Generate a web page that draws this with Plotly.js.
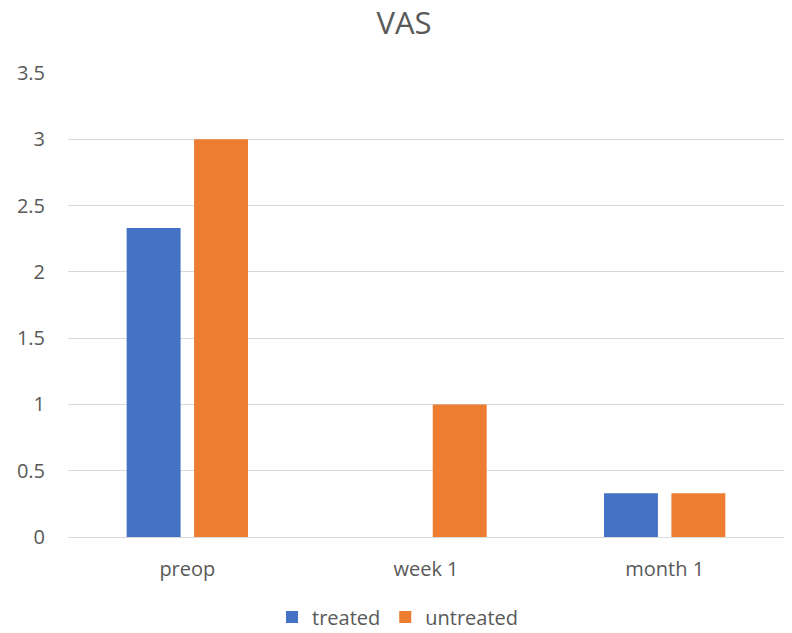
<!DOCTYPE html>
<html>
<head>
<meta charset="utf-8">
<script src="https://cdn.plot.ly/plotly-3.0.1.min.js"></script>
<style>html,body{margin:0;padding:0;background:#fff;}#chart{width:792px;height:633px;}</style>
</head>
<body>
<div id="chart"></div>
<script>
const categories = ["preop", "week 1", "month 1"];
const treated = [2.33, 0, 0.33];
const untreated = [3, 1, 0.33];
const yTicks = [0, 0.5, 1, 1.5, 2, 2.5, 3, 3.5];
const yTickLabels = ["0", "0.5", "1", "1.5", "2", "2.5", "3", "3.5"];

const textColor = "#595959";
const fontFamily = "'Open Sans', 'DejaVu Sans', sans-serif";

const data = [
  {type: "bar", name: "treated", x: categories, y: treated, marker: {color: "#4472C4"}},
  {type: "bar", name: "untreated", x: categories, y: untreated, marker: {color: "#ED7D31"}}
];

const layout = {
  width: 792, height: 633,
  margin: {l: 68, r: 8, t: 73, b: 96},
  paper_bgcolor: "#fff", plot_bgcolor: "#fff",
  font: {family: fontFamily, color: textColor, size: 20},
  title: {text: "VAS", font: {size: 31, color: textColor, family: fontFamily}, x: 404/792, xanchor: "center", xref: "container", y: 1 - 23/633, yref: "container", yanchor: "middle"},
  barmode: "group", bargap: 0.435, bargroupgap: 0.2,
  xaxis: {type: "category", showgrid: false, showline: true, linecolor: "#D9D9D9", linewidth: 1, ticks: "", ticklabelstandoff: 14, tickfont: {size: 20, color: textColor}},
  yaxis: {range: [0, 3.5], tickvals: yTicks, ticktext: yTickLabels, showgrid: true, gridcolor: "#D9D9D9", gridwidth: 1, zeroline: false, showline: false, ticks: "", ticklabelstandoff: 22, tickfont: {size: 20, color: textColor}},
  legend: {orientation: "h", x: 0.5 - 28/716, xanchor: "center", xref: "paper", y: 16/633, yref: "container", yanchor: "middle", font: {size: 20, color: textColor}, itemwidth: 30, traceorder: "normal"},
  showlegend: true
};

Plotly.newPlot("chart", data, layout, {displayModeBar: false, staticPlot: true});
</script>
</body>
</html>
